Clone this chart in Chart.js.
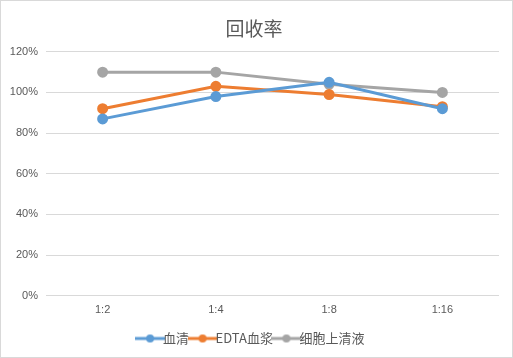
<!DOCTYPE html>
<html><head><meta charset="utf-8">
<script src="https://cdn.jsdelivr.net/npm/chart.js@4"></script>
<style>
html,body{margin:0;padding:0;background:#fff;}
#wrap{position:absolute;left:0;top:0;width:511px;height:356px;border:1px solid #d9d9d9;}
</style></head><body>
<div id="wrap"><canvas id="c" width="511" height="356"></canvas></div>
<script>
const categories = ['1:2','1:4','1:8','1:16'];
const serum = [87, 98, 105, 92];
const edtaPlasma = [92, 103, 99, 93];
const supernatant = [110, 110, 104, 100];
const seriesNames = ['血清','EDTA血浆','细胞上清液'];
const colors = ['#5B9BD5','#ED7D31','#A5A5A5'];

function legendIcon(color){
  const cv = document.createElement('canvas');
  cv.width = 30; cv.height = 10;
  const g = cv.getContext('2d');
  g.strokeStyle = color; g.lineWidth = 3;
  g.beginPath(); g.moveTo(0,5); g.lineTo(30,5); g.stroke();
  g.fillStyle = color; g.beginPath(); g.arc(15,5,4,0,Math.PI*2); g.fill();
  return cv;
}
const icons = colors.map(legendIcon);

const mk = (i, data) => ({
  label: seriesNames[i], data, borderColor: colors[i], backgroundColor: colors[i],
  borderWidth: 3, pointRadius: 4, pointHoverRadius: 4, tension: 0, fill: false
});

new Chart(document.getElementById('c'), {
  type: 'line',
  data: { labels: categories, datasets: [mk(0, serum), mk(1, edtaPlasma), mk(2, supernatant)] },
  options: {
    responsive: false, animation: false, devicePixelRatio: 1,
    layout: { padding: { left: 8, right: 13, top: 8, bottom: 2 } },
    plugins: {
      title: { display: true, text: '回收率', color: '#595959',
        font: { family: '"Noto Sans CJK SC"', size: 19, weight: 'normal' },
        padding: { top: 8, bottom: 12 } },
      legend: { position: 'bottom',
        labels: { color: '#595959', font: { family: '"Noto Sans CJK SC", "Liberation Sans"', size: 13 },
          usePointStyle: true, boxWidth: 30, boxHeight: 10, padding: 7,
          generateLabels: (chart) => chart.data.datasets.map((d, i) => ({
            text: d.label, pointStyle: icons[i], fillStyle: colors[i], strokeStyle: colors[i],
            lineWidth: 0, hidden: false, datasetIndex: i, fontColor: '#595959'
          }))
        } },
      tooltip: { enabled: false }
    },
    scales: {
      x: { offset: true, grid: { display: false, drawTicks: false }, border: { display: false },
        ticks: { color: '#595959', font: { family: '"Liberation Sans"', size: 11 }, padding: 8 } },
      y: { min: 0, max: 120,
        grid: { color: '#d9d9d9', drawTicks: false }, border: { display: false },
        afterFit: (s) => { s.width = 37; },
        ticks: { stepSize: 20, color: '#595959', padding: 8,
          font: { family: '"Liberation Sans"', size: 11 },
          callback: (v) => v + '%' } }
    }
  }
});
</script>
</body></html>
